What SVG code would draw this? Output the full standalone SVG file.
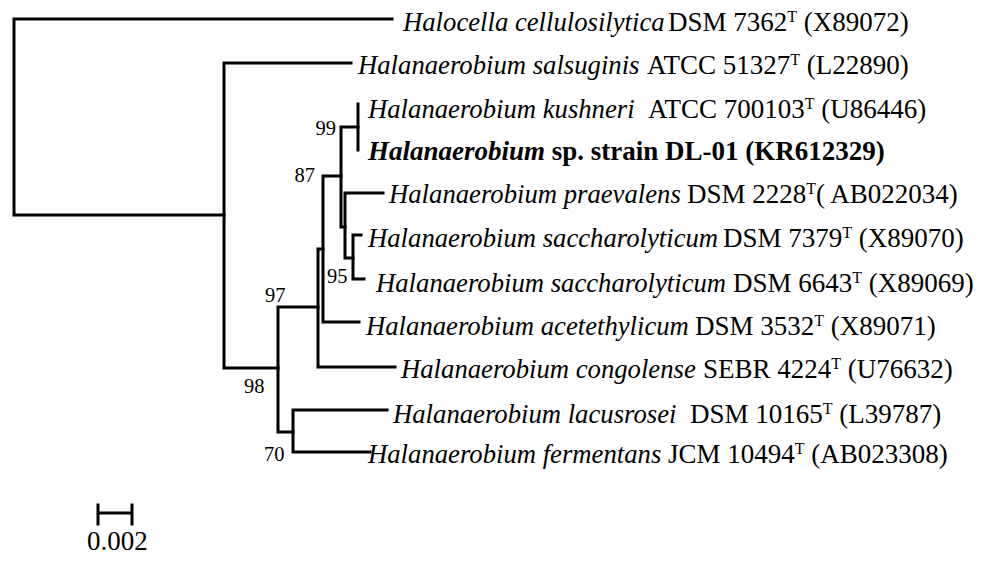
<svg xmlns="http://www.w3.org/2000/svg" width="986" height="561" viewBox="0 0 986 561">
<style>
.br{fill:none;stroke:#000;stroke-width:3;stroke-linecap:square}
.lab{font-family:"Liberation Serif","Times New Roman",serif;font-size:27px;fill:#000}
.it{font-style:italic;font-size:26.7px}
.sup{font-size:16px}
.bs{font-family:"Liberation Serif","Times New Roman",serif;font-size:20.5px;fill:#000}
.bold{font-weight:bold}
</style>
<rect width="986" height="561" fill="#fff"/>
<g id="connectors">
<path class="br" d="M392,19 H14 V215 H224"/>
<path class="br" d="M351,63 H224 V368 H278"/>
<path class="br" d="M318,307 H278 V432 H293"/>
<path class="br" d="M387,410 H293 V452 H370"/>
<path class="br" d="M323,249 H318 V367 H395"/>
<path class="br" d="M341,176 H323 V322 H359"/>
<path class="br" d="M358,127 H341 V227 H345"/>
<path class="br" d="M358,104 V150"/>
<path class="br" d="M383,193 H345 V258 H353"/>
<path class="br" d="M361,235 H353 V279 H364"/>
<path class="br" d="M98,513 H132 M98,505 V524 M132,505 V524"/>
</g>
<g id="leaf-halocella"><text class="lab" y="31"><tspan class="it" x="403">Halocella cellulosilytica</tspan><tspan x="668">DSM 7362</tspan><tspan class="sup" dy="-9">T</tspan><tspan dy="9"> (X89072)</tspan></text></g>
<g id="leaf-salsuginis"><text class="lab" y="74"><tspan class="it" x="358">Halanaerobium salsuginis</tspan><tspan x="647">ATCC 51327</tspan><tspan class="sup" dy="-9">T</tspan><tspan dy="9"> (L22890)</tspan></text></g>
<g id="leaf-kushneri"><text class="lab" y="118"><tspan class="it" x="368">Halanaerobium kushneri</tspan><tspan x="648">ATCC 700103</tspan><tspan class="sup" dy="-9">T</tspan><tspan dy="9"> (U86446)</tspan></text></g>
<g id="leaf-dl01"><text class="lab bold" y="160"><tspan class="it" x="368" style="font-size:27px">Halanaerobium</tspan><tspan>  sp. strain DL-01 (KR612329)</tspan></text></g>
<g id="leaf-praevalens"><text class="lab" y="203"><tspan class="it" x="389">Halanaerobium praevalens</tspan><tspan x="687">DSM 2228</tspan><tspan class="sup" dy="-9">T</tspan><tspan dy="9">( AB022034)</tspan></text></g>
<g id="leaf-sacch7379"><text class="lab" y="247"><tspan class="it" x="368">Halanaerobium saccharolyticum</tspan><tspan x="723">DSM 7379</tspan><tspan class="sup" dy="-9">T</tspan><tspan dy="9"> (X89070)</tspan></text></g>
<g id="leaf-sacch6643"><text class="lab" y="292"><tspan class="it" x="376">Halanaerobium saccharolyticum</tspan><tspan x="733">DSM 6643</tspan><tspan class="sup" dy="-9">T</tspan><tspan dy="9"> (X89069)</tspan></text></g>
<g id="leaf-acetethylicum"><text class="lab" y="335"><tspan class="it" x="366">Halanaerobium acetethylicum</tspan><tspan x="695">DSM 3532</tspan><tspan class="sup" dy="-9">T</tspan><tspan dy="9"> (X89071)</tspan></text></g>
<g id="leaf-congolense"><text class="lab" y="378"><tspan class="it" x="401">Halanaerobium congolense</tspan><tspan x="703">SEBR 4224</tspan><tspan class="sup" dy="-9">T</tspan><tspan dy="9"> (U76632)</tspan></text></g>
<g id="leaf-lacusrosei"><text class="lab" y="423"><tspan class="it" x="393">Halanaerobium lacusrosei</tspan><tspan x="690">DSM 10165</tspan><tspan class="sup" dy="-9">T</tspan><tspan dy="9"> (L39787)</tspan></text></g>
<g id="leaf-fermentans"><text class="lab" y="463"><tspan class="it" x="368">Halanaerobium fermentans</tspan><tspan x="668">JCM 10494</tspan><tspan class="sup" dy="-9">T</tspan><tspan dy="9"> (AB023308)</tspan></text></g>
<g id="bootstrap">
<text class="bs" x="336" y="135" text-anchor="end">99</text>
<text class="bs" x="315" y="182" text-anchor="end">87</text>
<text class="bs" x="327" y="283">95</text>
<text class="bs" x="265" y="302">97</text>
<text class="bs" x="244" y="393">98</text>
<text class="bs" x="264" y="461">70</text>
</g>
<g id="scale"><text class="lab" x="87" y="550">0.002</text></g>
</svg>
